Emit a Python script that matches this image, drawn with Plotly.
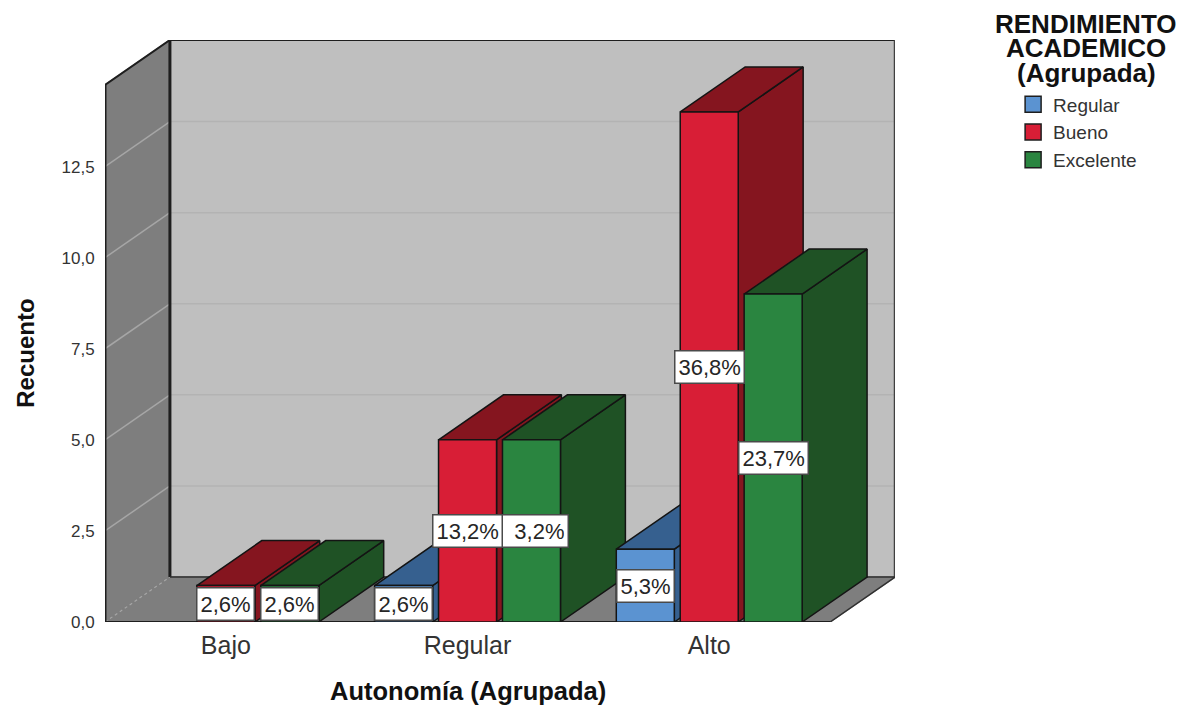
import plotly.graph_objects as go

# Counts per category and series
categories = ["Bajo", "Regular", "Alto"]
series_names = ["Regular", "Bueno", "Excelente"]
counts_regular = [None, 1, 2]
counts_bueno = [1, 5, 14]
counts_excelente = [1, 5, 9]
labels_regular = [None, "2,6%", "5,3%"]
labels_bueno = ["2,6%", "13,2%", "36,8%"]
labels_excelente = ["2,6%", "3,2%", "23,7%"]
y_ticks = [0, 2.5, 5, 7.5, 10, 12.5]
y_tick_text = ["0,0", "2,5", "5,0", "7,5", "10,0", "12,5"]

front_colors = ["#5B93D1", "#D81E36", "#2A8540"]
shade_colors = ["#36608F", "#85151F", "#1F5225"]
all_counts = [counts_regular, counts_bueno, counts_excelente]
all_labels = [labels_regular, labels_bueno, labels_excelente]

# Oblique projection: one depth step moves a point right and up in axis units
DEPTH_X = 0.2686
DEPTH_Y = 1.235
BAR_WIDTH = 0.24
BAR_STEP = 0.2645
WALL_TOP = 14.74
X_LEFT, X_RIGHT = -0.5, 2.5
EDGE = "#141414"
FONT = "Liberation Sans"

fig = go.Figure()


def face(xs, ys, fill, line=None, width=1.5):
    fig.add_trace(go.Scatter(
        x=xs + xs[:1], y=ys + ys[:1], mode="lines", fill="toself", fillcolor=fill,
        line=dict(color=line or fill, width=width), hoverinfo="skip",
        showlegend=False, cliponaxis=False))


def edge(xs, ys, color, width=2.0, dash="solid"):
    fig.add_trace(go.Scatter(
        x=xs, y=ys, mode="lines", line=dict(color=color, width=width, dash=dash),
        hoverinfo="skip", showlegend=False, cliponaxis=False))


# Walls and floor of the box
back_l, back_r = X_LEFT + DEPTH_X, X_RIGHT + DEPTH_X
back_top = WALL_TOP + DEPTH_Y
face([back_l, back_r, back_r, back_l], [DEPTH_Y, DEPTH_Y, back_top, back_top], "#BFBFBF")
face([X_LEFT, back_l, back_l, X_LEFT], [0, DEPTH_Y, back_top, WALL_TOP], "#7E7E7E")
face([X_LEFT, X_RIGHT, back_r, back_l], [0, 0, DEPTH_Y, DEPTH_Y], "#7E7E7E")

# Gridlines run across the side wall and along the back wall
for tick in y_ticks[1:]:
    edge([X_LEFT, back_l], [tick, tick + DEPTH_Y], "#A6A6A6", 1.5)
    edge([back_l, back_r], [tick + DEPTH_Y, tick + DEPTH_Y], "#B3B3B3", 1.5)
edge([X_LEFT, back_l], [0, DEPTH_Y], "#A6A6A6", 1.2, "dot")

edge([back_l, back_l], [DEPTH_Y, back_top], "#1E1E1E", 3)
edge([X_LEFT, X_LEFT], [0, WALL_TOP], "#1E1E1E", 3)
edge([X_LEFT, back_l, back_r], [WALL_TOP, back_top, back_top], "#1E1E1E", 2)
edge([back_r, back_r], [back_top, DEPTH_Y], "#404040", 2.5)
edge([back_l, back_r, X_RIGHT], [DEPTH_Y, DEPTH_Y, 0], "#303030", 1.5)
edge([X_LEFT, X_RIGHT], [0, 0], "#1E1E1E", 2)

# Bars are painted left to right so nearer faces cover their neighbours
for c in range(len(categories)):
    for s in range(len(series_names)):
        value = all_counts[s][c]
        if value is None:
            continue
        left = c + (s - 1) * BAR_STEP - BAR_WIDTH / 2
        right = left + BAR_WIDTH
        face([right, right + DEPTH_X, right + DEPTH_X, right],
             [0, DEPTH_Y, value + DEPTH_Y, value], shade_colors[s], EDGE)
        face([left, right, right + DEPTH_X, left + DEPTH_X],
             [value, value, value + DEPTH_Y, value + DEPTH_Y], shade_colors[s], EDGE)
        face([left, right, right, left], [0, 0, value, value], front_colors[s], EDGE)

# Legend entries
for s, name in enumerate(series_names):
    fig.add_trace(go.Scatter(
        x=[None], y=[None], mode="markers", name=name,
        marker=dict(symbol="square", size=16, color=front_colors[s],
                    line=dict(color="#1E1E1E", width=1.5))))

# Value labels, later series first so the earlier one overlaps it
annotations = []
for s in reversed(range(len(series_names))):
    for c in range(len(categories)):
        value = all_counts[s][c]
        if value is None:
            continue
        label = dict(
            x=c + (s - 1) * BAR_STEP, y=value / 2, xref="x", yref="y",
            text=all_labels[s][c], showarrow=False,
            font=dict(family=FONT, size=22, color="#262626"),
            bgcolor="white", bordercolor="#4A4A4A", borderwidth=1.5, borderpad=3)
        # The short label sits partly under its left neighbour's box
        if all_labels[s][c] == "3,2%":
            label.update(width=64, align="right", xshift=1.5)
        annotations.append(label)

# Axis titles are centred on the front plane of the box
annotations.append(dict(
    x=1, y=-0.1178, xref="x", yref="paper", xanchor="center", yanchor="middle",
    text="<b>Autonomía (Agrupada)</b>", showarrow=False,
    font=dict(family=FONT, size=25.5, color="#111111")))
annotations.append(dict(
    x=-0.101, y=WALL_TOP / 2, xref="paper", yref="y", xanchor="center", yanchor="middle",
    text="<b>Recuento</b>", showarrow=False,
    textangle=-90, font=dict(family=FONT, size=24, color="#111111")))

# Legend heading, one line per annotation for tight leading
for line, pos in zip(["RENDIMIENTO", "ACADEMICO", "(Agrupada)"], [1.0275, 0.986, 0.943]):
    annotations.append(dict(
        x=1.2418, y=pos, xref="paper", yref="paper", xanchor="center", yanchor="middle",
        text=f"<b>{line}</b>", showarrow=False,
        font=dict(family=FONT, size=26, color="#111111")))

fig.update_layout(
    width=1181, height=706, autosize=False,
    margin=dict(l=105, r=286, t=40, b=84),
    paper_bgcolor="white", plot_bgcolor="white",
    font=dict(family=FONT),
    xaxis=dict(range=[X_LEFT, back_r], tickvals=list(range(len(categories))), ticktext=categories,
               showgrid=False, zeroline=False, showline=False, ticks="outside", ticklen=1,
               tickcolor="rgba(0,0,0,0)", tickfont=dict(family=FONT, size=25, color="#333333"),
               fixedrange=True),
    yaxis=dict(range=[0, back_top], tickvals=y_ticks, ticktext=y_tick_text,
               showgrid=False, zeroline=False, showline=False, ticks="outside", ticklen=6,
               tickcolor="rgba(0,0,0,0)", tickfont=dict(family=FONT, size=17, color="#333333"),
               fixedrange=True),
    legend=dict(x=1.1495, y=0.922, xanchor="left", yanchor="top", bgcolor="rgba(0,0,0,0)",
                font=dict(family=FONT, size=19, color="#333333"), itemsizing="trace"),
    annotations=annotations,
)

fig.write_html("out.html", config={"displayModeBar": False})
